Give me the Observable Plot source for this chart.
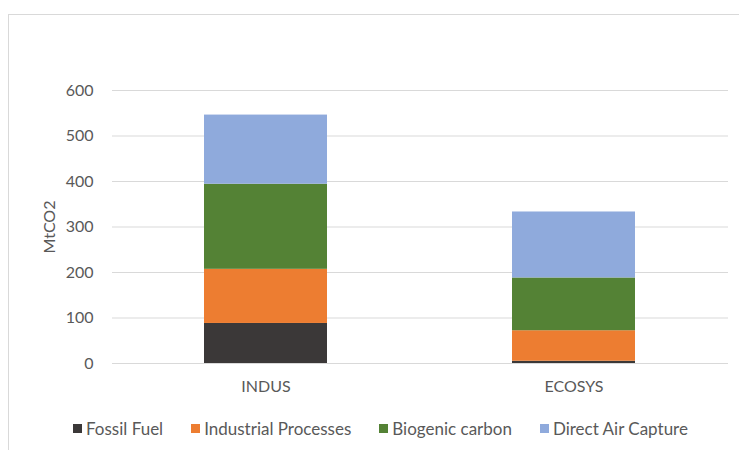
<!DOCTYPE html>
<html>
<head>
<meta charset="utf-8">
<script src="https://cdn.jsdelivr.net/npm/d3@7"></script>
<script src="https://cdn.jsdelivr.net/npm/@observablehq/plot@0.6"></script>
<style>
  html, body { margin: 0; padding: 0; background: #fff; width: 739px; height: 450px; overflow: hidden; }
  #frame { position: absolute; left: 8px; top: 14px; width: 760px; height: 470px; border: 1px solid #d9d9d9; box-sizing: border-box; }
  #chart { position: absolute; left: 0; top: 0; }
  #legend { position: absolute; left: 73px; top: 418px; display: flex; align-items: center;
            font-family: Lato, "Open Sans", sans-serif; font-size: 17px; color: #595959; }
  .item { display: flex; align-items: center; margin-right: 28px; }
  .swatch { width: 9px; height: 9px; margin-right: 4px; }
</style>
</head>
<body>
<div id="frame"></div>
<div id="chart"></div>
<div id="legend"></div>
<script>
// Scenarios on the x axis and emission sources stacked in each bar (MtCO2)
const scenarios = ["INDUS", "ECOSYS"];
const sources = ["Fossil Fuel", "Industrial Processes", "Biogenic carbon", "Direct Air Capture"];
const fossilFuel = [88, 5];
const industrialProcesses = [119, 67];
const biogenicCarbon = [187, 116];
const directAirCapture = [152, 145];
const colors = ["#3b3838", "#ed7d31", "#548235", "#8faadc"];
const yTicks = [0, 100, 200, 300, 400, 500, 600];

const series = [fossilFuel, industrialProcesses, biogenicCarbon, directAirCapture];
const rows = [];
sources.forEach((source, i) => {
  scenarios.forEach((scenario, j) => {
    rows.push({scenario, source, value: series[i][j]});
  });
});

const font = "Lato, 'Open Sans', sans-serif";

const plot = Plot.plot({
  width: 739,
  height: 400,
  marginTop: 90,
  marginBottom: 37,
  marginLeft: 112,
  marginRight: 11,
  style: {fontFamily: font, fontSize: "16px", color: "#595959", background: "transparent"},
  x: {domain: scenarios, paddingInner: 0.6, paddingOuter: 0.3, label: null},
  y: {domain: [0, 600], label: null},
  color: {domain: sources, range: colors},
  marks: [
    Plot.ruleY(yTicks, {stroke: "#d9d9d9", strokeWidth: 1}),
    Plot.barY(rows, {x: "scenario", y: "value", fill: "source", order: sources}),
    Plot.axisY(yTicks, {tickSize: 0, tickPadding: 19, fill: "#595959", fontSize: 16}),
    Plot.axisX({tickSize: 0, tickPadding: 17, fill: "#595959", fontSize: 16}),
    Plot.text(["MtCO2"], {frameAnchor: "left", dx: -63, rotate: -90, fill: "#595959", fontSize: 16, textAnchor: "middle"})
  ]
});
document.getElementById("chart").appendChild(plot);

// Legend below the plot
const legend = document.getElementById("legend");
sources.forEach((source, i) => {
  const item = document.createElement("div");
  item.className = "item";
  const sw = document.createElement("span");
  sw.className = "swatch";
  sw.style.background = colors[i];
  const label = document.createElement("span");
  label.textContent = source;
  item.appendChild(sw);
  item.appendChild(label);
  legend.appendChild(item);
});
</script>
</body>
</html>
